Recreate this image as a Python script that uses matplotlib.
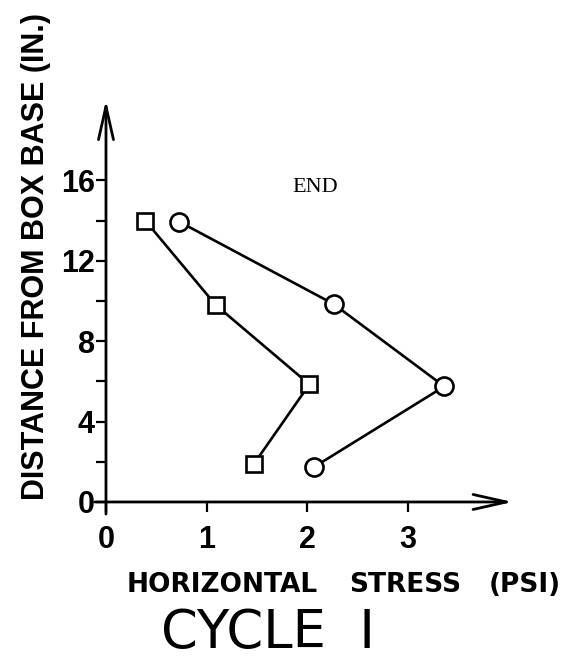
"""
Horizontal stress against distance from box base, cycle I (END).
"""

import matplotlib
matplotlib.use('Agg')
import matplotlib.pyplot as plt


# Data

square_stress = [0.39, 1.09, 2.02, 1.47]
square_distance = [14.0, 9.8, 5.85, 1.9]

circle_stress = [0.725, 2.26, 3.36, 2.07]
circle_distance = [13.95, 9.85, 5.75, 1.75]

x_ticks = [0, 1, 2, 3]
y_ticks = [0, 4, 8, 12, 16]
y_minor_ticks = [2, 6, 10, 14]


# Plot

plt.rcParams['font.family'] = ['Liberation Sans', 'DejaVu Sans']
plt.rcParams['font.weight'] = 'bold'

fig = plt.figure(figsize=(5.79, 6.65), dpi=100)
ax = fig.add_axes([0.1554, 0.2256, 0.7340, 0.6316])
ax.set_xlim(-0.159, 4.062)
ax.set_ylim(-0.647, 20.25)

for spine in ax.spines.values():
    spine.set_visible(False)
ax.spines['left'].set_position(('data', 0))
ax.spines['bottom'].set_position(('data', 0))

# hand drawn axes with open arrow heads
arrow_style = dict(arrowstyle='->,head_length=0.8,head_width=0.18', lw=2.0,
                   color='black', shrinkA=0, shrinkB=0, mutation_scale=30)
ax.annotate('', xy=(4.04, 0), xytext=(-0.11, 0), arrowprops=arrow_style)
ax.annotate('', xy=(0, 20.0), xytext=(0, -0.6), arrowprops=arrow_style)

ax.set_xticks(x_ticks)
ax.set_yticks(y_ticks)
ax.set_yticks(y_minor_ticks, minor=True)
ax.tick_params(axis='both', which='both', direction='out', width=1.6,
               length=7.5, color='black', labelsize=22)
ax.tick_params(axis='x', pad=9)
ax.tick_params(axis='y', pad=0.5)

ax.plot(square_stress, square_distance, '-s', color='black', lw=1.9,
        ms=11, mfc='white', mew=1.9)
ax.plot(circle_stress, circle_distance, '-o', color='black', lw=1.9,
        ms=13, mfc='white', mew=1.9)

ax.text(2.08, 15.67, 'END', family='Liberation Serif', weight='normal',
        fontsize=16, ha='center', va='center')

# axis titles
fig.text(36 / 579, 1 - 257 / 665, 'DISTANCE FROM BOX BASE (IN.)', rotation=90,
         fontsize=22, ha='center', va='center')

for word, xpix in [('HORIZONTAL', 222), ('STRESS', 405), ('(PSI)', 525)]:
    fig.text(xpix / 579, 1 - 585 / 665, word, family='DejaVu Sans',
             fontsize=19, ha='center', va='center')

fig.text(268 / 579, 1 - 633 / 665, 'CYCLE  I', family='DejaVu Sans',
         weight='normal', fontsize=38, ha='center', va='center')

plt.savefig('out.png', dpi=100)
